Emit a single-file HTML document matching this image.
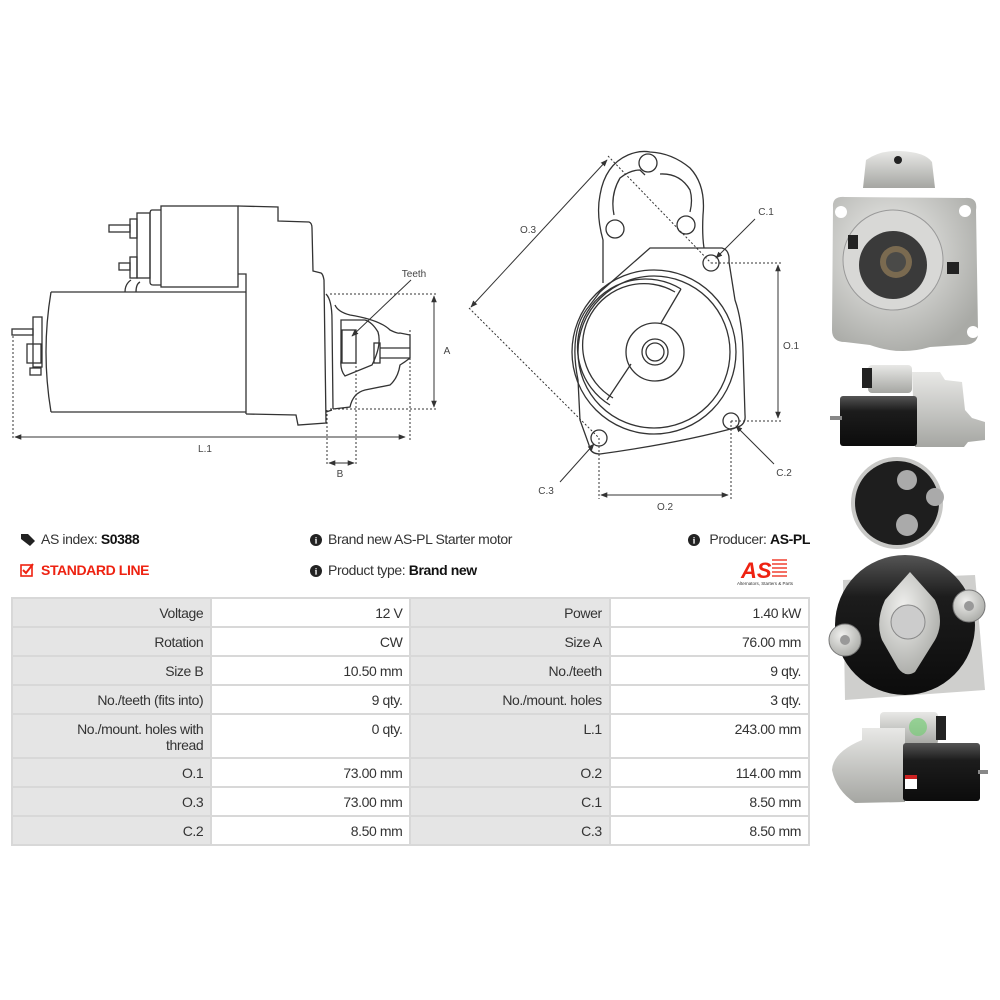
<!DOCTYPE html>
<html><head><meta charset="utf-8">
<style>
html,body{margin:0;padding:0;background:#fff;}
body{width:1000px;height:1000px;position:relative;overflow:hidden;font-family:"Liberation Sans",sans-serif;color:#333;}
svg{position:absolute;left:0;top:0;}
.t{position:absolute;font-size:14px;white-space:nowrap;letter-spacing:-0.4px;}
b{color:#111;}
table{position:absolute;left:11px;top:597px;border-collapse:collapse;width:799px;font-size:14px;letter-spacing:-0.4px;}
td{border:2px solid #d8d8d8;text-align:right;padding:6px 7px 3px 6px;vertical-align:top;height:18px;color:#333;}
td.g{background:#e5e5e5;width:185px;}
td.w{background:#fff;width:185px;}
</style></head><body>
<svg width="1000" height="1000" viewBox="0 0 1000 1000">
<defs>
<marker id="ar" viewBox="0 0 10 10" refX="9" refY="5" markerWidth="7" markerHeight="7" orient="auto-start-reverse"><path d="M0,1 L10,5 L0,9z" fill="#333"/></marker>
<radialGradient id="sil" cx="40%" cy="35%" r="70%"><stop offset="0" stop-color="#f0f0ee"/><stop offset="1" stop-color="#a9aaa6"/></radialGradient>
<linearGradient id="blk" x1="0" y1="0" x2="0" y2="1"><stop offset="0" stop-color="#555"/><stop offset=".3" stop-color="#1c1c1c"/><stop offset="1" stop-color="#0c0c0c"/></linearGradient>
<linearGradient id="sv" x1="0" y1="0" x2="0" y2="1"><stop offset="0" stop-color="#e8e8e6"/><stop offset="1" stop-color="#a5a6a2"/></linearGradient>
</defs>
<g fill="none" stroke="#333" stroke-width="1.3">
<rect x="161" y="206" width="77" height="81"/>
<path d="M161,210 L152,210 Q150,210 150,214 L150,282 Q150,285 153,285 L161,285"/>
<rect x="137" y="213" width="13" height="65"/>
<rect x="130" y="219" width="7" height="19"/><rect x="109" y="225" width="21" height="7"/>
<rect x="130" y="257" width="7" height="21"/><rect x="119" y="263" width="11" height="7"/>
<path d="M125,292 Q125,284 131,280 M136,292 Q136,284 140,282"/>
<path d="M238,206 L278,207 L278,221 L309,222 Q312,223 312,228 L313,271 L321,273 Q323,274 324,280 L326,423 L298,425 L296,415 L246,414"/>
<path d="M238,274 L246,274 L246,414"/>
<path d="M51,292 L246,292 M51,412 L246,412 M51,292 Q41,352 51,412"/>
<rect x="33" y="317" width="9" height="50"/><rect x="12" y="329" width="21" height="6"/>
<rect x="27" y="344" width="14" height="19"/><rect x="30" y="368" width="11" height="7"/>
<path d="M326,294 Q332,300 332,320 L333,409 M326,412 L332,410"/>
<path d="M335,305 Q338,312 350,315 Q380,320 390,330 Q398,334 400,333 L410,335 L410,358 Q405,362 400,365 Q398,378 390,385 L365,390 Q353,393 350,407 L333,409"/>
<path d="M341,320 L365,320 Q372,322 378,332 Q382,345 372,365 L345,376 Q340,370 341,360 Z"/>
<rect x="342" y="330" width="14" height="33"/>
<rect x="374" y="343" width="6" height="20"/>
<path d="M380,348 L410,348 M380,358 L410,358"/>
</g>
<g fill="none" stroke="#333" stroke-width="1" stroke-dasharray="2,2">
<path d="M330,294 L437,294 M330,409 L437,409 M13,336 L13,440 M410,330 L410,440 M327,410 L327,466 M356,330 L356,466"/>
<path d="M608,156 L711,263 M469,308 L599,438 M711,263 L781,263 M731,421 L781,421 M599,438 L599,499 M731,421 L731,499"/>
</g>
<g stroke="#333" stroke-width="1" fill="none">
<line x1="434" y1="296" x2="434" y2="407" marker-start="url(#ar)" marker-end="url(#ar)"/>
<line x1="15" y1="437" x2="405" y2="437" marker-start="url(#ar)" marker-end="url(#ar)"/>
<line x1="329" y1="463" x2="354" y2="463" marker-start="url(#ar)" marker-end="url(#ar)"/>
<line x1="411" y1="280" x2="352" y2="336" marker-end="url(#ar)"/>
<line x1="607" y1="160" x2="471" y2="307" marker-start="url(#ar)" marker-end="url(#ar)"/>
<line x1="778" y1="265" x2="778" y2="418" marker-start="url(#ar)" marker-end="url(#ar)"/>
<line x1="601" y1="495" x2="728" y2="495" marker-start="url(#ar)" marker-end="url(#ar)"/>
<line x1="755" y1="219" x2="716" y2="258" marker-end="url(#ar)"/>
<line x1="774" y1="464" x2="736" y2="426" marker-end="url(#ar)"/>
<line x1="560" y1="482" x2="594" y2="444" marker-end="url(#ar)"/>
</g>
<g fill="none" stroke="#333" stroke-width="1.3">
<path d="M603,283 L603,240 Q596,215 600,195 Q605,165 628,155 Q640,150 650,152 Q672,153 690,168 Q706,185 703,215 Q702,235 704,248"/>
<path d="M614,215 Q610,195 620,178 Q630,170 640,170 L645,175 M660,174 Q680,173 690,190 Q693,200 690,212"/>
<circle cx="648" cy="163" r="9"/><circle cx="615" cy="229" r="9"/><circle cx="686" cy="225" r="9"/>
<path d="M650,248 L722,248 Q730,250 729,262 L735,300 Q742,320 743,350 L745,415 Q746,424 738,427 Q680,443 600,454 Q590,454 589,445 L580,420 L578,380 Q568,330 590,305 L600,292 Z"/>
<circle cx="654" cy="352" r="82"/><circle cx="654" cy="352" r="76"/>
<path d="M681,289 A53,53 0 0,0 610,405 M681,289 L661,323 M607,400 L631,364"/>
<path d="M675,292 A48,48 0 0,0 613,398" />
<circle cx="655" cy="352" r="29"/><circle cx="655" cy="352" r="13"/><circle cx="655" cy="352" r="9"/>
<circle cx="711" cy="263" r="8"/><circle cx="731" cy="421" r="8"/><circle cx="599" cy="438" r="8"/>
</g>
<g font-family="Liberation Sans,sans-serif" font-size="10" fill="#444" text-anchor="middle">
<text x="414" y="277">Teeth</text><text x="447" y="354">A</text><text x="205" y="452">L.1</text><text x="340" y="477">B</text>
<text x="528" y="233">O.3</text><text x="766" y="215">C.1</text><text x="791" y="349">O.1</text><text x="784" y="476">C.2</text><text x="546" y="494">C.3</text><text x="665" y="510">O.2</text>
</g>
<g>
<path d="M863,188 L866,160 Q880,150 900,151 Q925,152 932,162 L935,188 Z" fill="url(#sv)"/>
<circle cx="898" cy="160" r="4" fill="#222"/>
<path d="M833,207 Q832,196 845,197 L965,198 Q978,197 976,210 L978,330 Q980,345 962,345 L930,347 Q900,356 870,345 L845,342 Q832,342 832,330 Z" fill="url(#sil)"/>
<circle cx="893" cy="260" r="50" fill="#d8d8d6" stroke="#999"/>
<circle cx="893" cy="265" r="34" fill="#3a3a3a"/>
<circle cx="896" cy="262" r="16" fill="#7a6a50"/><circle cx="896" cy="262" r="10" fill="#4a4a48"/>
<circle cx="841" cy="212" r="6" fill="#fff"/><circle cx="965" cy="211" r="6" fill="#fff"/><circle cx="973" cy="332" r="6" fill="#fff"/>
<rect x="848" y="235" width="10" height="14" fill="#222"/><rect x="947" y="262" width="12" height="12" fill="#222"/>
<rect x="868" y="365" width="44" height="28" rx="4" fill="url(#sv)"/>
<rect x="862" y="368" width="10" height="20" fill="#222"/>
<path d="M912,372 L940,372 L945,380 L962,382 L965,410 L972,418 L985,422 L985,440 L968,442 L964,447 L915,447 Z" fill="url(#sv)"/>
<rect x="840" y="396" width="77" height="50" rx="3" fill="url(#blk)"/>
<rect x="830" y="416" width="12" height="4" fill="#888"/>
<circle cx="897" cy="503" r="46" fill="#c8c8c6"/>
<circle cx="897" cy="503" r="42" fill="#1e1e1e"/>
<circle cx="907" cy="480" r="10" fill="#aaa"/><circle cx="935" cy="497" r="9" fill="#aaa"/><circle cx="907" cy="525" r="11" fill="#aaa"/>
<path d="M843,580 L975,575 L985,690 L845,700 Z" fill="#cfcfcd"/>
<circle cx="905" cy="625" r="70" fill="url(#blk)"/>
<path d="M910,572 L935,600 Q945,622 935,640 L915,672 Q905,678 898,668 L882,640 Q875,622 885,600 Z" fill="url(#sil)"/>
<circle cx="908" cy="622" r="17" fill="#ccc" stroke="#888"/>
<circle cx="845" cy="640" r="16" fill="url(#sil)" stroke="#777"/><circle cx="845" cy="640" r="5" fill="#999"/>
<circle cx="969" cy="606" r="16" fill="url(#sil)" stroke="#777"/><circle cx="969" cy="606" r="5" fill="#999"/>
<rect x="880" y="712" width="58" height="33" rx="4" fill="url(#sv)"/>
<circle cx="918" cy="727" r="9" fill="#7c7" opacity=".7"/>
<rect x="936" y="716" width="10" height="24" fill="#222"/>
<path d="M862,728 L905,728 L905,802 L855,803 Q836,790 832,770 Q833,752 862,740 Z" fill="url(#sv)"/>
<rect x="903" y="743" width="77" height="58" rx="3" fill="url(#blk)"/>
<rect x="905" y="775" width="12" height="14" fill="#fff"/><rect x="905" y="775" width="12" height="4" fill="#c22"/>
<rect x="978" y="770" width="10" height="4" fill="#888"/>
</g>
<path d="M21,534 L28,534 L35,541 L30,546 L21,539 Z" fill="#222"/>
<rect x="21" y="565" width="11" height="11" fill="none" stroke="#e21" stroke-width="1.6"/>
<path d="M23,570 L26,573 L33,564" fill="none" stroke="#e21" stroke-width="2"/>
<circle cx="316" cy="540" r="6" fill="#222"/><circle cx="316" cy="571" r="6" fill="#222"/><circle cx="694" cy="540" r="6" fill="#222"/>
<g fill="#fff" font-family="Liberation Serif,serif" font-weight="bold" font-size="9" text-anchor="middle"><text x="316" y="543.5">i</text><text x="316" y="574.5">i</text><text x="694" y="543.5">i</text></g>
<text x="741" y="578" font-family="Liberation Sans,sans-serif" font-weight="bold" font-style="italic" font-size="22" fill="#e21">AS</text>
<g stroke="#e21" stroke-width="1.3"><line x1="772" y1="560" x2="787" y2="560"/><line x1="772" y1="564" x2="787" y2="564"/><line x1="772" y1="568" x2="787" y2="568"/><line x1="772" y1="572" x2="787" y2="572"/><line x1="772" y1="576" x2="787" y2="576"/></g>
<text x="765" y="585" font-family="Liberation Sans,sans-serif" font-size="4.5" fill="#333" text-anchor="middle">Alternators, Starters &amp; Parts</text>
</svg>
<div class="t" style="left:41px;top:531px;">AS index: <b>S0388</b></div>
<div class="t" style="left:41px;top:562px;color:#e21;font-weight:bold;">STANDARD LINE</div>
<div class="t" style="left:328px;top:531px;">Brand new AS-PL Starter motor</div>
<div class="t" style="left:328px;top:562px;">Product type: <b>Brand new</b></div>
<div class="t" style="right:190px;top:531px;">Producer: <b>AS-PL</b></div>
<table>
<tr><td class="g">Voltage</td><td class="w">12 V</td><td class="g">Power</td><td class="w">1.40 kW</td></tr>
<tr><td class="g">Rotation</td><td class="w">CW</td><td class="g">Size A</td><td class="w">76.00 mm</td></tr>
<tr><td class="g">Size B</td><td class="w">10.50 mm</td><td class="g">No./teeth</td><td class="w">9 qty.</td></tr>
<tr><td class="g">No./teeth (fits into)</td><td class="w">9 qty.</td><td class="g">No./mount. holes</td><td class="w">3 qty.</td></tr>
<tr><td class="g" style="height:33px;line-height:16px;">No./mount. holes with<br>thread</td><td class="w">0 qty.</td><td class="g">L.1</td><td class="w">243.00 mm</td></tr>
<tr><td class="g">O.1</td><td class="w">73.00 mm</td><td class="g">O.2</td><td class="w">114.00 mm</td></tr>
<tr><td class="g">O.3</td><td class="w">73.00 mm</td><td class="g">C.1</td><td class="w">8.50 mm</td></tr>
<tr><td class="g">C.2</td><td class="w">8.50 mm</td><td class="g">C.3</td><td class="w">8.50 mm</td></tr>
</table>
</body></html>
